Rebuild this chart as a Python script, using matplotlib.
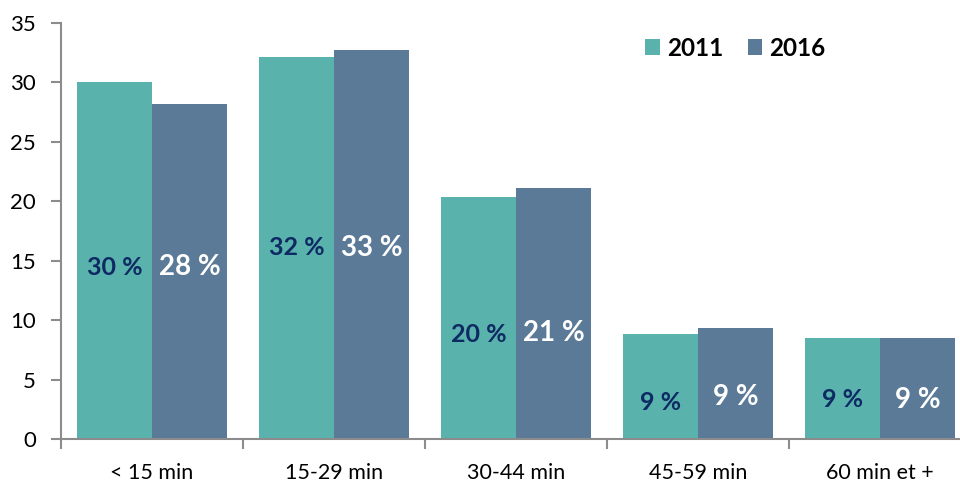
import numpy as np
import matplotlib.pyplot as plt

categories = ['< 15 min', '15-29 min', '30-44 min', '45-59 min', '60 min et +']
years = ['2011', '2016']
values_2011 = [30.0, 32.1, 20.4, 8.8, 8.5]
values_2016 = [28.2, 32.7, 21.1, 9.3, 8.5]
labels_2011 = ['30 %', '32 %', '20 %', '9 %', '9 %']
labels_2016 = ['28 %', '33 %', '21 %', '9 %', '9 %']
# heights where the percentage labels sit inside the bars
label_y_2011 = [14.4, 16.1, 8.8, 3.1, 3.3]
label_y_2016 = [14.5, 16.1, 8.9, 3.5, 3.3]

teal = '#5AB2AD'
slate = '#5B7A97'
navy = '#0E2A63'
grey = '#8C8C8C'

plt.rcParams['font.family'] = ['Lato', 'DejaVu Sans']

fig = plt.figure(figsize=(9.6, 4.87), dpi=100)
ax = fig.add_axes([61 / 960, 48 / 487, 910 / 960, 416 / 487])

x = np.arange(len(categories))
w = 0.412
b1 = ax.bar(x - w / 2, values_2011, w, color=teal, label=years[0])
b2 = ax.bar(x + w / 2, values_2016, w, color=slate, label=years[1])

for i in range(len(categories)):
    ax.text(x[i] - w / 2, label_y_2011[i], labels_2011[i], ha='center', va='center',
            color=navy, fontsize=18, fontweight='bold')
    ax.text(x[i] + w / 2, label_y_2016[i], labels_2016[i], ha='center', va='center',
            color='white', fontsize=20, fontweight='bold')

ax.set_xlim(-0.5, len(categories) - 0.5)
ax.set_ylim(0, 35)
ax.set_yticks(range(0, 36, 5))
ax.set_xticks(x)
ax.set_xticklabels(categories)
ax.set_xticks(np.arange(-0.5, len(categories), 1), minor=True)

for s in ['top', 'right']:
    ax.spines[s].set_visible(False)
for s in ['left', 'bottom']:
    ax.spines[s].set_color(grey)
    ax.spines[s].set_linewidth(1.5)

ax.tick_params(axis='y', colors=grey, labelcolor='black', labelsize=16,
               length=7, width=1.5, pad=11)
ax.tick_params(axis='x', which='major', length=0, labelsize=15.5, pad=17)
ax.tick_params(axis='x', which='minor', length=7, width=1.5, color=grey)

leg = ax.legend(loc='upper left', bbox_to_anchor=(0.618, 1.02), ncol=2, frameon=False,
                prop={'weight': 'bold', 'size': 17.5}, handlelength=0.6, handleheight=0.6,
                handletextpad=0.3, columnspacing=1.0)

fig.savefig('out.png', dpi=100)
